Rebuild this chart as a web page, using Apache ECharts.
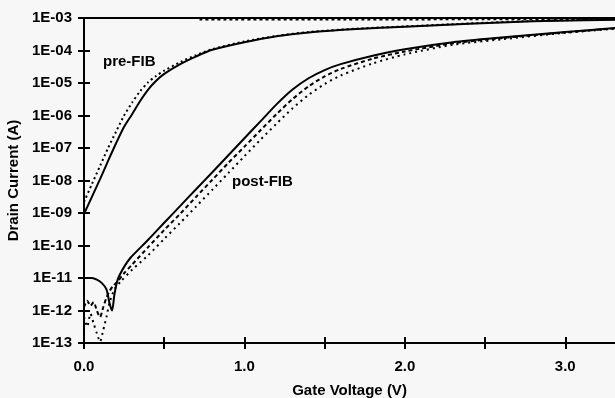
<!DOCTYPE html>
<html>
<head>
<meta charset="utf-8">
<script src="https://cdn.jsdelivr.net/npm/echarts@6/dist/echarts.min.js"></script>
<style>
html,body{margin:0;padding:0;background:#f7f7f7;}
#c{width:615px;height:398px;}
</style>
</head>
<body>
<div id="c"></div>
<script>
// Gate voltage (V) / drain current (A) pairs
const preSolidV = [0.00,0.05,0.10,0.15,0.20,0.25,0.30,0.35,0.40,0.45,0.50,0.60,0.70,0.80,1.00,1.20,1.40,1.70,2.00,2.40,2.80,3.31];
const preSolidI = [9.3e-10,3.2e-9,1.1e-8,4.0e-8,1.4e-7,4.5e-7,1.1e-6,2.8e-6,6.3e-6,1.17e-5,1.9e-5,3.8e-5,6.6e-5,1.05e-4,1.8e-4,2.75e-4,3.6e-4,4.6e-4,5.4e-4,6.6e-4,7.9e-4,8.9e-4];

const preDotV = [0.00,0.05,0.10,0.15,0.20,0.25,0.30,0.35,0.40,0.45,0.50,0.60,0.70,0.80,1.00,1.20,1.40,1.70,2.00,2.40,2.80,3.31];
const preDotI = [2.2e-9,7.9e-9,2.8e-8,1.0e-7,3.2e-7,1.0e-6,2.5e-6,5.6e-6,1.05e-5,1.66e-5,2.4e-5,4.4e-5,7.2e-5,1.1e-4,1.9e-4,2.8e-4,3.7e-4,4.7e-4,5.5e-4,6.8e-4,8.1e-4,9.1e-4];

const preTopV = [0.72,1.50,2.50,3.31];
const preTopI = [9.0e-4,9.0e-4,9.1e-4,9.1e-4];

const postSolidV = [0.00,0.05,0.08,0.11,0.14,0.16,0.175,0.19,0.21,0.25,0.29,0.40,0.50,0.60,0.70,0.80,0.90,1.00,1.10,1.20,1.30,1.40,1.50,1.60,1.80,2.00,2.30,2.60,3.00,3.31];
const postSolidI = [1.0e-11,1.0e-11,8.9e-12,7.1e-12,4.5e-12,1.6e-12,1.0e-12,3.2e-12,8.9e-12,2.2e-11,4.2e-11,1.5e-10,5.0e-10,1.66e-9,5.5e-9,1.8e-8,6.0e-8,2.0e-7,6.6e-7,2.2e-6,6.3e-6,1.4e-5,2.5e-5,3.8e-5,6.9e-5,1.1e-4,1.8e-4,2.5e-4,3.7e-4,4.9e-4];

const postDashV = [0.00,0.02,0.04,0.06,0.08,0.10,0.12,0.14,0.16,0.18,0.21,0.25,0.30,0.40,0.50,0.60,0.70,0.80,0.90,1.00,1.10,1.20,1.30,1.40,1.50,1.60,1.80,2.00,2.30,2.60,3.00,3.31];
const postDashI = [1.26e-12,2.0e-12,1.4e-12,1.8e-12,1.0e-12,6.3e-13,1.26e-12,2.5e-12,4.0e-12,5.6e-12,7.9e-12,1.4e-11,2.6e-11,8.9e-11,3.0e-10,9.5e-10,3.2e-9,1.05e-8,3.5e-8,1.1e-7,3.5e-7,1.1e-6,3.2e-6,7.9e-6,1.6e-5,2.7e-5,5.6e-5,9.3e-5,1.66e-4,2.4e-4,3.6e-4,4.8e-4];

const postDotV = [0.00,0.02,0.04,0.06,0.08,0.10,0.12,0.14,0.16,0.19,0.23,0.30,0.40,0.50,0.60,0.70,0.80,0.90,1.00,1.10,1.20,1.30,1.40,1.50,1.60,1.80,2.00,2.30,2.60,3.00,3.31];
const postDotI = [6.3e-13,3.2e-13,7.9e-13,4.0e-13,2.0e-13,1.1e-13,2.5e-13,6.3e-13,1.8e-12,4.5e-12,7.9e-12,1.8e-11,5.0e-11,1.6e-10,5.0e-10,1.6e-9,5.2e-9,1.7e-8,5.6e-8,1.8e-7,5.6e-7,1.66e-6,4.3e-6,9.3e-6,1.7e-5,4.0e-5,7.6e-5,1.5e-4,2.2e-4,3.5e-4,4.7e-4];

const xTickVals = [0,0.5,1.0,1.5,2.0,2.5,3.0];
const xLabelVals = [0,1,2,3];
const xMax = 3.31;
const yMin = 1e-13, yMax = 1e-3;

function pairs(xs, ys){ return xs.map((x,i)=>[x, ys[i]]); }

const FONT = 'Liberation Sans';
const chart = echarts.init(document.getElementById('c'), null, {renderer:'canvas'});

function yLab(v){
  const e = Math.round(Math.log10(v));
  const s = String(Math.abs(e)).padStart(2,'0');
  return '1E' + (e<0?'-':'+') + s;
}

const lineSolid = {color:'#000', width:2, type:'solid'};
const baseSeries = {type:'line', showSymbol:false, symbol:'none', smooth:0.25, xAxisIndex:0, yAxisIndex:0, silent:true, animation:false};

chart.setOption({
  backgroundColor:'#f7f7f7',
  animation:false,
  grid:{left:84, right:0, top:18, bottom:55, containLabel:false, outerBoundsMode:'none'},
  xAxis:[
    {type:'value', min:0, max:xMax, position:'bottom',
     name:'Gate Voltage (V)', nameLocation:'middle', nameGap:40,
     nameTextStyle:{fontFamily:FONT, fontWeight:'bold', fontSize:15, color:'#000'},
     axisLine:{show:true, onZero:false, lineStyle:{color:'#000', width:2}},
     axisTick:{show:true, customValues:xTickVals, length:6, inside:false, lineStyle:{color:'#000', width:2}},
     axisLabel:{show:true, customValues:xLabelVals, margin:16, formatter:v=>Number(v).toFixed(1),
       fontFamily:FONT, fontWeight:'bold', fontSize:15, color:'#000'},
     splitLine:{show:false}},
    {type:'value', min:0, max:xMax, position:'bottom',
     axisLine:{show:false, onZero:false},
     axisTick:{show:true, customValues:xTickVals, length:6, inside:true, lineStyle:{color:'#000', width:2}},
     axisLabel:{show:false}, splitLine:{show:false}},
    {type:'value', min:0, max:xMax, position:'top',
     axisLine:{show:true, onZero:false, lineStyle:{color:'#000', width:2}},
     axisTick:{show:false}, axisLabel:{show:false}, splitLine:{show:false}}
  ],
  yAxis:[
    {type:'log', logBase:10, min:yMin, max:yMax, interval:1, position:'left',
     name:'Drain Current (A)', nameLocation:'middle', nameGap:55,
     nameTextStyle:{fontFamily:FONT, fontWeight:'bold', fontSize:15, color:'#000'},
     axisLine:{show:true, onZero:false, lineStyle:{color:'#000', width:2}},
     axisTick:{show:true, length:6, inside:false, lineStyle:{color:'#000', width:2}},
     axisLabel:{show:true, margin:12, formatter:yLab, fontFamily:FONT, fontWeight:'bold', fontSize:15, color:'#000'},
     splitLine:{show:false}},
    {type:'log', logBase:10, min:yMin, max:yMax, interval:1, position:'left',
     axisLine:{show:false, onZero:false},
     axisTick:{show:true, length:6, inside:true, lineStyle:{color:'#000', width:2}},
     axisLabel:{show:false}, splitLine:{show:false}}
  ],
  series:[
    Object.assign({}, baseSeries, {name:'pre-FIB', data:pairs(preSolidV, preSolidI), lineStyle:lineSolid}),
    Object.assign({}, baseSeries, {name:'pre-FIB dotted', data:pairs(preDotV, preDotI), lineStyle:{color:'#000', width:2, type:[2,3]}}),
    Object.assign({}, baseSeries, {name:'pre-FIB top', data:pairs(preTopV, preTopI), lineStyle:{color:'#000', width:2, type:[3,3]}}),
    Object.assign({}, baseSeries, {name:'post-FIB', data:pairs(postSolidV, postSolidI), lineStyle:lineSolid}),
    Object.assign({}, baseSeries, {name:'post-FIB dashed', data:pairs(postDashV, postDashI), lineStyle:{color:'#000', width:2, type:[4,3]}}),
    Object.assign({}, baseSeries, {name:'post-FIB dotted', data:pairs(postDotV, postDotI), lineStyle:{color:'#000', width:2, type:[2,4]}})
  ],
  graphic:[
    {type:'text', left:103, top:54, style:{text:'pre-FIB', fontFamily:FONT, fontWeight:'bold', fontSize:15, fill:'#000'}},
    {type:'text', left:232, top:174, style:{text:'post-FIB', fontFamily:FONT, fontWeight:'bold', fontSize:15, fill:'#000'}}
  ]
});
</script>
</body>
</html>
